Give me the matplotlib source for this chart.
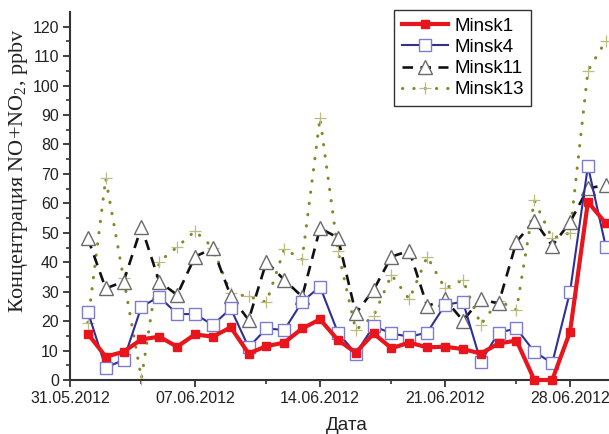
import numpy as np
import matplotlib
matplotlib.use("Agg")
import matplotlib.pyplot as plt
import matplotlib.dates as mdates

# data (June 2012, one value per day)
days = np.arange(np.datetime64("2012-06-01"), np.datetime64("2012-07-01"))
minsk1 = [15.7, 7.9, 9.6, 13.8, 14.7, 11.3, 15.5, 14.7, 17.9, 9.0,
          11.5, 12.7, 17.5, 20.6, 13.6, 9.3, 15.8, 10.8, 12.7, 11.1,
          11.3, 10.5, 9.0, 12.4, 13.4, 0.0, 0.0, 16.4, 60.5, 53.2]
minsk4 = [23.2, 4.2, 6.8, 24.9, 28.3, 22.4, 22.4, 18.7, 24.3, 11.1,
          17.5, 17.0, 26.6, 31.7, 16.1, 9.0, 18.3, 15.8, 14.7, 16.1,
          25.5, 26.6, 6.2, 16.1, 17.5, 9.6, 5.7, 30.0, 72.7, 45.3]
minsk11 = [48.1, 31.1, 33.4, 52.0, 33.4, 28.9, 41.9, 44.7, 28.5, 20.4,
           40.2, 34.0, 28.3, 51.5, 48.4, 22.6, 30.6, 41.9, 43.9, 25.1,
           27.4, 20.2, 27.4, 26.0, 47.0, 54.1, 45.6, 53.6, 65.1, 66.2]
minsk13 = [19.5, 68.5, 34.5, 0.5, 40.2, 45.2, 50.6, 45.0, 29.4, 28.4,
           26.4, 44.5, 41.0, 89.0, 43.9, 17.0, 21.7, 35.7, 27.4, 41.9,
           31.1, 34.0, 18.8, 27.0, 23.8, 61.0, 48.1, 50.0, 105.0, 115.2]
major_ticks = ["2012-05-31", "2012-06-07", "2012-06-14", "2012-06-21", "2012-06-28"]
minor_ticks = ["2012-06-04", "2012-06-11", "2012-06-18", "2012-06-25"]

plt.rcParams["font.family"] = ["Liberation Sans", "DejaVu Sans"]

fig = plt.figure(figsize=(6.09, 4.34), dpi=100)
ax = fig.add_axes([70 / 609, 54 / 434, 539 / 609, 368 / 434])

ax.plot(days, minsk13, linestyle=(0, (0.1, 3.6)), dash_capstyle="round", lw=2.2,
        color="#86862a", marker="+", ms=9, mew=0.9, mec="#bcbc80",
        label="Minsk13", clip_on=False, zorder=2)
ax.plot(days, minsk11, linestyle=(0, (4, 2.8)), lw=1.9, color="#111111",
        marker="^", ms=10, mfc="white", mec="#6a6a6a", mew=1.0,
        label="Minsk11", clip_on=False, zorder=3)
ax.plot(days, minsk4, "-", lw=1.5, color="#2e3192",
        marker="s", ms=8, mfc="white", mec="#7b7bd0", mew=1.0,
        label="Minsk4", clip_on=False, zorder=4)
ax.plot(days, minsk1, "-", lw=3.0, color="#e8151d",
        marker="s", ms=6, mfc="#e8151d", mec="#e8151d",
        label="Minsk1", clip_on=False, zorder=5)

ax.set_ylim(0, 125)
ax.set_xlim(np.datetime64("2012-05-31"), np.datetime64("2012-05-31T00:00") + np.timedelta64(30 * 24 * 60 + 260, "m"))
ax.set_yticks(range(0, 121, 10))
ax.set_yticks(range(5, 125, 10), minor=True)
ax.set_xticks([np.datetime64(d) for d in major_ticks])
ax.set_xticks([np.datetime64(d) for d in minor_ticks], minor=True)
ax.xaxis.set_major_formatter(mdates.DateFormatter("%d.%m.%Y"))

ax.spines["top"].set_visible(False)
ax.spines["right"].set_visible(False)
for s in ["left", "bottom"]:
    ax.spines[s].set_linewidth(1.5)
    ax.spines[s].set_color("#333333")
ax.tick_params(which="major", direction="out", length=5, width=1.3, color="#333333",
               labelsize=11.5, labelcolor="#222222", pad=3)
ax.tick_params(which="minor", direction="out", length=3, width=1.2, color="#333333")

fig.text(19 / 609, 1 - 171 / 434, "Концентрация NO+NO$_\\mathregular{2}$, ppbv",
         rotation=90, ha="center", va="center", fontsize=16,
         family=["Liberation Serif", "DejaVu Serif"], color="#222222")
fig.text(347 / 609, 1 - 426 / 434, "Дата", ha="center", va="center",
         fontsize=13.5, color="#222222")

handles, labels = ax.get_legend_handles_labels()
order = [3, 2, 1, 0]
leg = ax.legend([handles[i] for i in order], [labels[i] for i in order],
                loc="upper left", bbox_to_anchor=(394 / 609, 1 - 10 / 434),
                bbox_transform=fig.transFigure, borderaxespad=0, fontsize=13.5,
                handlelength=2.5, handletextpad=0.3, labelspacing=0.22,
                borderpad=0.4, fancybox=False, framealpha=1)
leg.get_frame().set_edgecolor("#333333")
leg.get_frame().set_linewidth(1.0)

fig.savefig("out.png", dpi=100)
